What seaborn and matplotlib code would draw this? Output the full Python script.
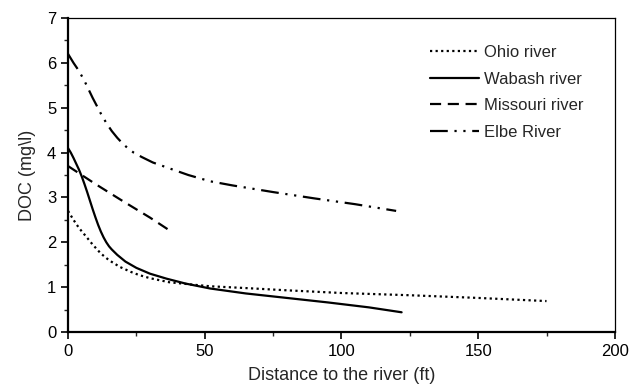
import numpy as np
import pandas as pd
import seaborn as sns
import matplotlib.pyplot as plt
from matplotlib.ticker import MultipleLocator

# values
ohio_x = [0, 2, 4, 7, 9, 12, 15, 19, 23, 26, 30, 37, 45, 52, 65, 80, 100, 125, 150, 175]
ohio_y = [2.7, 2.5, 2.32, 2.1, 1.95, 1.75, 1.6, 1.45, 1.34, 1.27, 1.2, 1.11, 1.06, 1.02, 0.98, 0.93, 0.87, 0.82, 0.76, 0.69]

wabash_x = [0, 1, 2, 3, 4, 5, 6, 7, 8, 9, 10, 11, 12, 13, 14, 15, 16, 18, 21, 25, 30, 36, 43, 52, 65, 80, 95, 110, 122]
wabash_y = [4.1, 4.0, 3.88, 3.75, 3.62, 3.47, 3.3, 3.12, 2.93, 2.74, 2.56, 2.39, 2.24, 2.11, 2.0, 1.91, 1.84, 1.72, 1.57, 1.43, 1.3, 1.19, 1.08, 0.97, 0.86, 0.76, 0.66, 0.55, 0.44]

missouri_x = [0, 10, 20, 30, 37]
missouri_y = [3.7, 3.3, 2.92, 2.55, 2.27]

elbe_x = [0, 2, 4, 6, 9, 12, 14, 16, 18, 20, 22, 24, 27, 31, 37, 44, 52, 60, 75, 90, 105, 120]
elbe_y = [6.2, 6.0, 5.82, 5.6, 5.22, 4.87, 4.66, 4.48, 4.33, 4.2, 4.09, 4.0, 3.9, 3.78, 3.65, 3.5, 3.36, 3.27, 3.12, 2.98, 2.85, 2.7]

rivers = ["Ohio river", "Wabash river", "Missouri river", "Elbe River"]

df = pd.concat([
    pd.DataFrame({"x": ohio_x, "y": ohio_y, "river": rivers[0]}),
    pd.DataFrame({"x": wabash_x, "y": wabash_y, "river": rivers[1]}),
    pd.DataFrame({"x": missouri_x, "y": missouri_y, "river": rivers[2]}),
    pd.DataFrame({"x": elbe_x, "y": elbe_y, "river": rivers[3]}),
])

sns.set_style("ticks")
plt.rcParams['font.family'] = ['Liberation Sans', 'DejaVu Sans']

fig = plt.figure(figsize=(6.3, 3.92), dpi=100)
ax = fig.add_axes([0.108, 0.153, 0.868, 0.801])

dash_map = {
    "Ohio river": (1, 1.5),
    "Wabash river": "",
    "Missouri river": (5, 3),
    "Elbe River": (8, 3, 1, 3, 1, 3),
}
sns.lineplot(data=df, x="x", y="y", style="river", style_order=rivers,
             dashes=dash_map, color="black", linewidth=1.6, ax=ax, sort=False)
for ln in ax.get_lines():
    ln.set_solid_joinstyle("round")
    ln.set_dash_joinstyle("round")

ax.set_xlim(0, 200)
ax.set_ylim(0, 7)
ax.xaxis.set_major_locator(MultipleLocator(50))
ax.xaxis.set_minor_locator(MultipleLocator(25))
ax.yaxis.set_major_locator(MultipleLocator(1))
ax.yaxis.set_minor_locator(MultipleLocator(0.5))
ax.tick_params(which="major", direction="out", length=5, width=1.2, labelsize=12, colors="black")
ax.tick_params(which="minor", direction="out", length=3, width=1.0)

for side in ["left", "bottom"]:
    ax.spines[side].set_linewidth(1.6)
for side in ["top", "right"]:
    ax.spines[side].set_linewidth(0.9)
for s in ax.spines.values():
    s.set_color("black")

ax.set_xlabel("Distance to the river (ft)", fontsize=13, labelpad=6)
ax.set_ylabel("DOC (mg\\l)", fontsize=13, labelpad=8)

handles, labels = ax.get_legend_handles_labels()
pairs = [(h, l) for h, l in zip(handles, labels) if l in rivers]
ax.legend([p[0] for p in pairs], [p[1] for p in pairs], frameon=False,
          loc="upper left", bbox_to_anchor=(0.635, 0.962), fontsize=12,
          handlelength=2.9, labelspacing=0.7, handletextpad=0.35)

fig.savefig("out.png", dpi=100)
